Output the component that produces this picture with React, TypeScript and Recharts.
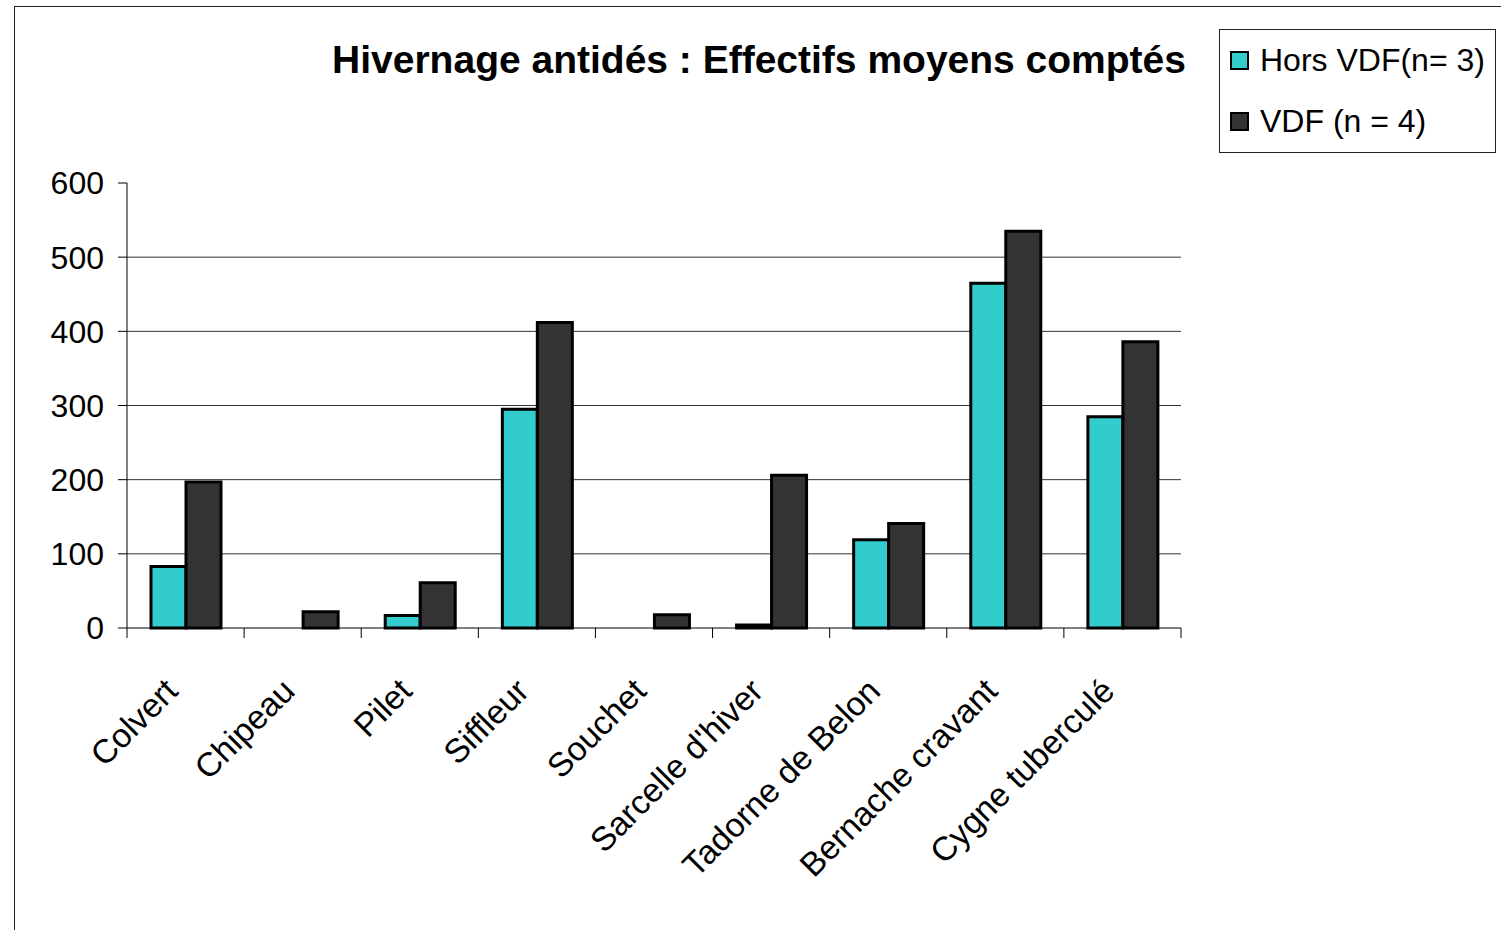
import React from 'react';
import {
  BarChart,
  Bar,
  XAxis,
  YAxis,
  CartesianGrid,
  Legend,
} from 'recharts';

const species = [
  'Colvert',
  'Chipeau',
  'Pilet',
  'Siffleur',
  'Souchet',
  "Sarcelle d'hiver",
  'Tadorne de Belon',
  'Bernache cravant',
  'Cygne tuberculé',
];
const horsVdf = [83, 0, 17, 295, 0, 4, 119, 465, 285];
const vdf = [197, 22, 61, 412, 18, 206, 141, 535, 386];
const yTicks = [0, 100, 200, 300, 400, 500, 600];
const gridValues = [100, 200, 300, 400, 500];

const SERIES_HORS = 'Hors VDF(n= 3)';
const SERIES_VDF = 'VDF (n = 4)';

const chartData = species.map((name, i) => ({
  name,
  hors: horsVdf[i],
  vdf: vdf[i],
}));

const W = 1501;
const H = 930;
const MARGIN = { top: 183, right: 320, bottom: 102, left: 0 };
const Y_AXIS_W = 127;
const X_AXIS_H = 200;
const BAND = (W - MARGIN.left - MARGIN.right - Y_AXIS_W) / species.length;
const FONT = '"Liberation Sans", Arial, sans-serif';

const SpeciesTick = (props: any) => {
  const { x, y, payload, index } = props;
  const half = payload && payload.offset ? payload.offset : BAND / 2;
  const tx = x - 6;
  const ty = y + 65;
  return (
    <g>
      <line x1={x - half} x2={x - half} y1={y} y2={y + 10} stroke="#000" strokeWidth={1} />
      {index === species.length - 1 && (
        <line x1={x + half} x2={x + half} y1={y} y2={y + 10} stroke="#000" strokeWidth={1} />
      )}
      <text
        x={tx}
        y={ty}
        transform={`rotate(-45, ${tx}, ${ty})`}
        textAnchor="end"
        fontSize={33.5}
        fontFamily={FONT}
        fill="#000"
      >
        {payload.value}
      </text>
    </g>
  );
};

const LegendBox = (props: any) => {
  const items = props.payload || [];
  return (
    <div
      style={{
        position: 'relative',
        width: 277,
        height: 124,
        boxSizing: 'border-box',
        border: '1px solid #222',
        background: '#fff',
        fontFamily: FONT,
        fontSize: 32,
        color: '#000',
      }}
    >
      {items.map((entry: any, i: number) => (
        <div
          key={`legend-${i}`}
          style={{
            position: 'absolute',
            left: 10,
            top: 11 + i * 61,
            height: 38,
            display: 'flex',
            alignItems: 'center',
            whiteSpace: 'nowrap',
          }}
        >
          <span
            style={{
              display: 'inline-block',
              width: 15,
              height: 15,
              background: entry.color,
              border: '2.5px solid #000',
              marginRight: 11,
            }}
          />
          <span>{entry.value}</span>
        </div>
      ))}
    </div>
  );
};

export default function App() {
  return (
    <div
      style={{
        position: 'fixed',
        left: 0,
        top: 0,
        width: W,
        height: H,
        overflow: 'hidden',
        background: '#fff',
      }}
    >
      <div
        style={{
          position: 'absolute',
          left: 14,
          top: 6,
          width: W,
          height: H,
          borderLeft: '1.5px solid #222',
          borderTop: '1.5px solid #222',
        }}
      />
      <svg
        width={W}
        height={120}
        style={{ position: 'absolute', left: 0, top: 0 }}
      >
        <text
          x={1186}
          y={73}
          textAnchor="end"
          fontSize={39}
          fontWeight="bold"
          fontFamily={FONT}
          fill="#000"
        >
          Hivernage antidés : Effectifs moyens comptés
        </text>
      </svg>
      <div style={{ position: 'absolute', left: 0, top: 0 }}>
        <BarChart
          width={W}
          height={H}
          data={chartData}
          margin={MARGIN}
          barCategoryGap={24}
          barGap={0}
        >
          <CartesianGrid
            vertical={false}
            horizontalValues={gridValues}
            stroke="#333"
            strokeWidth={1}
          />
          <XAxis
            dataKey="name"
            height={X_AXIS_H}
            interval={0}
            tickLine={false}
            tickSize={0}
            tickMargin={0}
            axisLine={{ stroke: '#000', strokeWidth: 1 }}
            tick={<SpeciesTick />}
          />
          <YAxis
            width={Y_AXIS_W}
            domain={[0, 600]}
            ticks={yTicks}
            interval={0}
            tickSize={9}
            tickMargin={14}
            axisLine={{ stroke: '#000', strokeWidth: 1 }}
            tickLine={{ stroke: '#000', strokeWidth: 1 }}
            tick={{ fontSize: 32, fontFamily: FONT, fill: '#000' }}
          />
          <Legend
            layout="vertical"
            align="center"
            verticalAlign="middle"
            content={<LegendBox />}
            wrapperStyle={{ position: 'absolute', left: 1219, top: 29, width: 277, height: 124 }}
          />
          <Bar
            dataKey="hors"
            name={SERIES_HORS}
            fill="#33CCCC"
            stroke="#000"
            strokeWidth={3}
            isAnimationActive={false}
          />
          <Bar
            dataKey="vdf"
            name={SERIES_VDF}
            fill="#333333"
            stroke="#000"
            strokeWidth={3}
            isAnimationActive={false}
          />
        </BarChart>
      </div>
    </div>
  );
}
